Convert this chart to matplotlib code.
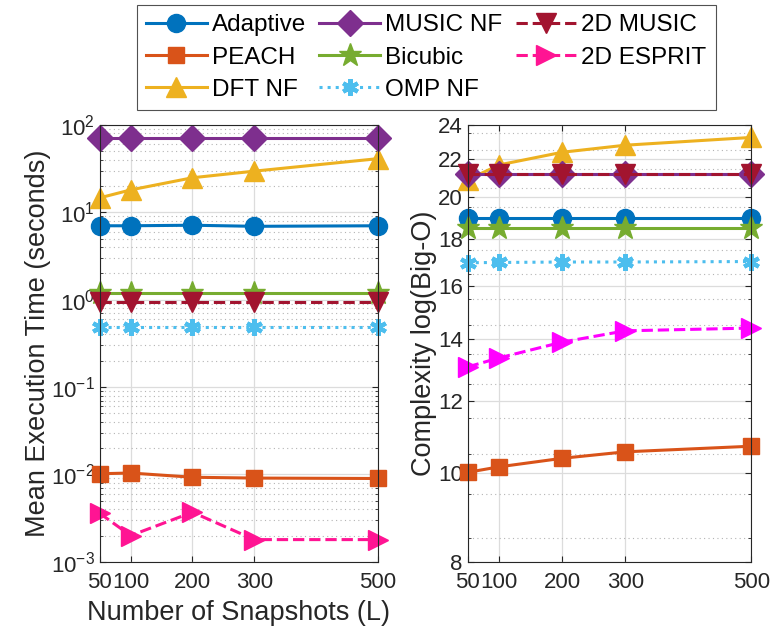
import numpy as np
import matplotlib.pyplot as plt
from matplotlib.ticker import FixedLocator, FixedFormatter, NullFormatter, LogLocator

plt.rcParams['font.family'] = ['Liberation Sans', 'DejaVu Sans']
plt.rcParams['mathtext.fontset'] = 'custom'
plt.rcParams['mathtext.rm'] = 'Liberation Sans'

snapshots = [50, 100, 200, 300, 500]

names = ['Adaptive', 'PEACH', 'DFT NF', 'MUSIC NF', 'Bicubic', 'OMP NF', '2D MUSIC', '2D ESPRIT']

# mean execution time (seconds)
time_adaptive = [7.0, 7.0, 7.1, 6.9, 7.0]
time_peach = [0.0102, 0.0104, 0.0093, 0.0091, 0.0090]
time_dft = [14.6, 18.0, 24.8, 29.5, 41.0]
time_music = [71, 71, 71, 71, 71]
time_bicubic = [1.2, 1.2, 1.2, 1.2, 1.2]
time_omp = [0.49, 0.49, 0.49, 0.49, 0.49]
time_music2d = [0.95, 0.95, 0.95, 0.95, 0.95]
time_esprit2d = [0.0036, 0.0020, 0.0037, 0.0018, 0.0018]

# complexity log(Big-O)
cx_adaptive = [19.0, 19.0, 19.0, 19.0, 19.0]
cx_peach = [10.02, 10.16, 10.38, 10.55, 10.7]
cx_dft = [20.9, 21.7, 22.4, 22.8, 23.25]
cx_music = [21.2, 21.2, 21.2, 21.2, 21.2]
cx_bicubic = [18.5, 18.5, 18.5, 18.5, 18.5]
cx_omp = [16.97, 16.98, 17.0, 17.0, 17.02]
cx_music2d = [21.2, 21.2, 21.2, 21.2, 21.2]
cx_esprit2d = [13.06, 13.36, 13.9, 14.3, 14.4]

times = [time_adaptive, time_peach, time_dft, time_music, time_bicubic, time_omp, time_music2d, time_esprit2d]
complexity = [cx_adaptive, cx_peach, cx_dft, cx_music, cx_bicubic, cx_omp, cx_music2d, cx_esprit2d]

colors = ['#0072BD', '#D95319', '#EDB120', '#7E2F8E', '#77AC30', '#4DBEEE', '#A2142F', '#FF1493']
markers = ['o', 's', '^', 'D', '*', (6, 2, 0), 'v', '>']
styles = ['-', '-', '-', '-', '-', ':', '--', '--']
sizes = [13, 12, 14, 13, 17, 12, 14, 14]
right_colors = colors[:7] + ['#FF00FF']

fig = plt.figure(figsize=(7.73, 6.4), dpi=100)
ax1 = fig.add_axes([0.129, 0.122, 0.360, 0.683])
ax2 = fig.add_axes([0.605, 0.122, 0.367, 0.683])

handles = []
for i in range(len(names)):
    mew = 3 if i == 5 else 1
    h, = ax1.plot(snapshots, times[i], color=colors[i], marker=markers[i], linestyle=styles[i],
                  linewidth=2.2, markersize=sizes[i], markeredgewidth=mew, label=names[i], clip_on=False)
    handles.append(h)
    ax2.plot(snapshots, complexity[i], color=right_colors[i], marker=markers[i], linestyle=styles[i],
             linewidth=2.2, markersize=sizes[i], markeredgewidth=mew, clip_on=False)

txt = '#262626'
for ax in (ax1, ax2):
    ax.set_yscale('log')
    ax.set_xlim(50, 500)
    ax.set_xticks(snapshots)
    ax.set_xticklabels([str(s) for s in snapshots])
    ax.tick_params(which='both', direction='in', top=True, right=True, colors=txt, labelsize=16)
    ax.tick_params(axis='x', pad=7)
    ax.tick_params(which='major', length=4)
    ax.tick_params(which='minor', length=2.5)
    ax.grid(True, which='major', color='#dcdcdc', linewidth=0.9)
    ax.grid(True, which='minor', axis='y', color='#b4b4b4', linestyle=(0, (1, 3)), linewidth=0.8)
    for s in ax.spines.values():
        s.set_color(txt)
        s.set_linewidth(0.8)
    ax.set_axisbelow(True)

ax1.set_ylim(1e-3, 1e2)
ax1.yaxis.set_major_locator(LogLocator(base=10, numticks=10))
ax1.yaxis.set_minor_locator(LogLocator(base=10, subs=np.arange(2, 10), numticks=20))
ax1.yaxis.set_minor_formatter(NullFormatter())
ax1.set_ylabel('Mean Execution Time (seconds)', fontsize=19.5, color=txt, labelpad=0)
ax1.set_xlabel('Number of Snapshots (L)', fontsize=19.5, color=txt, labelpad=5)

major_cx = [8, 10, 12, 14, 16, 18, 20, 22, 24]
ax2.set_ylim(8, 24)
ax2.yaxis.set_major_locator(FixedLocator(major_cx))
ax2.yaxis.set_major_formatter(FixedFormatter([str(v) for v in major_cx]))
ax2.yaxis.set_minor_locator(FixedLocator(np.arange(8.5, 24, 1.0)))
ax2.yaxis.set_minor_formatter(NullFormatter())
ax2.set_ylabel('Complexity log(Big-O)', fontsize=19.5, color=txt, labelpad=1)

leg = fig.legend(handles=handles, loc='upper left', bbox_to_anchor=(0.177, 0.992), ncol=3,
                 fontsize=17.5, frameon=True, fancybox=False, edgecolor=txt, handlelength=2.5,
                 handletextpad=0.2, columnspacing=0.55, labelspacing=0.42, borderpad=0.38,
                 borderaxespad=0)
leg.get_frame().set_linewidth(0.8)

fig.savefig('out.png', dpi=100)
